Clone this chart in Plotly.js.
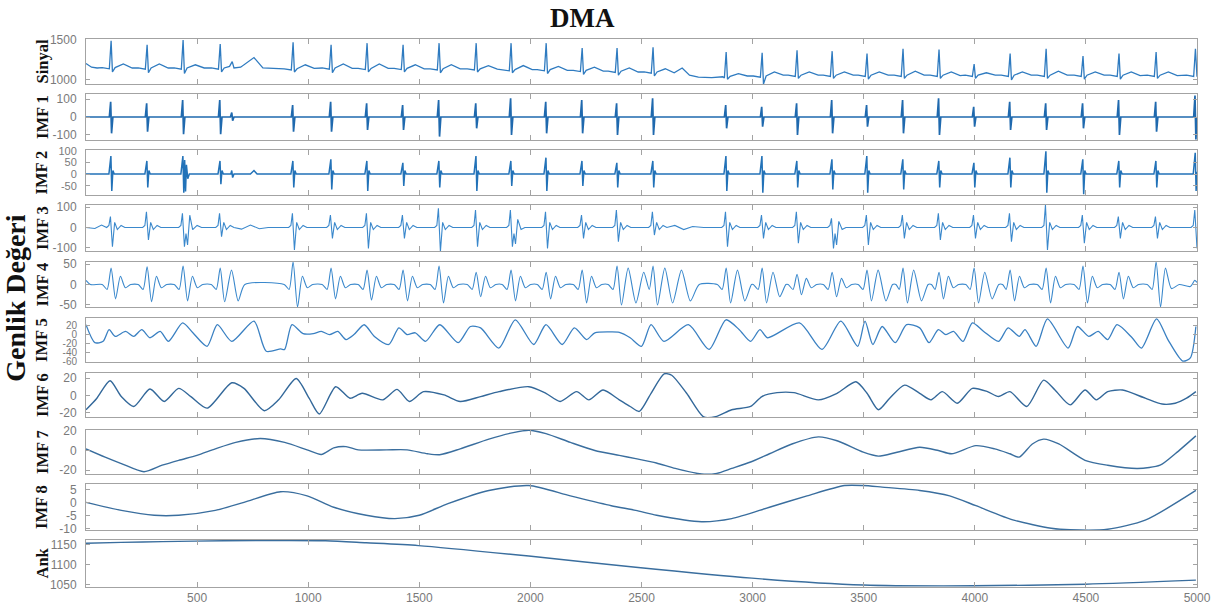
<!DOCTYPE html>
<html><head><meta charset="utf-8">
<script src="https://cdn.plot.ly/plotly-3.0.1.min.js"></script>
<style>html,body{margin:0;padding:0;background:#fff}#chart{width:1221px;height:612px}</style>
</head><body><div id="chart"></div>
<script>
// ---- data (sample index, amplitude) ----
const panelNames = ['Sinyal','IMF 1','IMF 2','IMF 3','IMF 4','IMF 5','IMF 6','IMF 7','IMF 8','Ank'];

const sinyal = [[0,1205],[25,1160],[50,1150],
[73,1155],[105,1140],[113,1490],[119,1100],[131,1155],[168,1200],[208,1150],
[235,1150],[267,1135],[275,1440],[281,1090],[293,1150],[330,1200],[370,1150],
[397,1150],[429,1135],[437,1500],[443,1080],[455,1150],[492,1190],[532,1150],
[564,1150],[596,1135],[604,1450],[610,1100],[622,1150],[646,1170],[658,1230],[666,1150],[696,1160],[756,1280],[796,1150],[856,1140],
[892,1140],[924,1125],[932,1470],[938,1100],[950,1140],[987,1190],[1027,1145],
[1063,1150],[1095,1135],[1103,1440],[1109,1090],[1121,1150],[1158,1200],[1198,1145],
[1225,1145],[1257,1130],[1265,1460],[1271,1100],[1283,1145],[1320,1200],[1360,1145],
[1387,1145],[1419,1130],[1427,1440],[1433,1100],[1445,1145],[1482,1190],[1522,1140],
[1549,1140],[1581,1125],[1589,1460],[1595,1090],[1607,1140],[1644,1190],[1684,1140],
[1716,1140],[1748,1125],[1756,1460],[1762,1100],[1774,1140],[1811,1180],[1851,1135],
[1873,1130],[1905,1115],[1913,1460],[1919,1090],[1931,1130],[1968,1180],[2008,1130],
[2031,1130],[2063,1115],[2071,1460],[2077,1080],[2089,1130],[2126,1170],[2166,1120],
[2193,1120],[2225,1105],[2233,1400],[2239,1070],[2251,1120],[2288,1160],[2328,1110],
[2350,1110],[2382,1095],[2390,1400],[2396,1060],[2408,1110],[2445,1150],[2485,1100],
[2512,1100],[2544,1085],[2552,1410],[2558,1050],[2570,1100],[2607,1140],[2647,1090],[2683,1150],[2716,1060],[2756,1035],[2816,1030],[2846,1040],
[2866,1040],[2873,1025],[2881,1350],[2887,1010],[2899,1045],[2936,1080],[2976,1050],
[3003,1050],[3035,1035],[3043,1340],[3049,950],[3061,1050],[3098,1100],[3138,1060],
[3160,1060],[3192,1045],[3200,1370],[3206,1020],[3218,1060],[3255,1100],[3295,1060],
[3318,1060],[3350,1045],[3358,1360],[3364,1020],[3376,1060],[3413,1100],[3453,1060],
[3475,1060],[3507,1045],[3515,1330],[3521,1010],[3533,1060],[3570,1100],[3610,1060],
[3637,1060],[3669,1045],[3677,1390],[3683,1020],[3695,1060],[3732,1110],[3772,1060],
[3799,1060],[3831,1045],[3839,1380],[3845,1020],[3857,1060],[3894,1100],[3934,1055],
[3957,1060],[3989,1045],[3997,1200],[4003,1020],[4015,1060],[4052,1090],[4092,1060],
[4119,1060],[4151,1045],[4159,1330],[4165,1000],[4177,1060],[4214,1100],[4254,1060],
[4281,1060],[4313,1045],[4321,1390],[4327,1020],[4339,1060],[4376,1110],[4416,1060],
[4447,1060],[4479,1045],[4487,1300],[4493,1010],[4505,1060],[4542,1100],[4582,1060],
[4609,1060],[4641,1045],[4649,1330],[4655,1010],[4667,1060],[4704,1100],[4744,1055],
[4776,1060],[4808,1045],[4816,1350],[4822,1020],[4834,1060],[4871,1100],[4911,1055],
[4953,1060],[4985,1045],[4993,1390],[5000,1040]];

const imf1 = [[0,0],
[105,0],[111,85],[115,-91],[121,0],
[267,0],[273,76],[277,-82],[283,0],
[429,0],[435,94],[439,-96],[445,0],
[596,0],[602,94],[606,-96],[612,0],
[650,0],[656,25],[660,-20],[666,0],
[924,0],[930,67],[934,-82],[940,0],
[1095,0],[1101,85],[1105,-82],[1111,0],
[1257,0],[1263,76],[1267,-72],[1273,0],
[1419,0],[1425,67],[1429,-72],[1435,0],
[1581,0],[1587,94],[1591,-109],[1597,0],
[1748,0],[1754,76],[1758,-63],[1764,0],
[1905,0],[1911,104],[1915,-100],[1921,0],
[2063,0],[2069,85],[2073,-91],[2079,0],
[2225,0],[2231,94],[2235,-91],[2241,0],
[2382,0],[2388,76],[2392,-100],[2398,0],
[2544,0],[2550,104],[2554,-100],[2560,0],
[2873,0],[2879,67],[2883,-63],[2889,0],
[3035,0],[3041,57],[3045,-54],[3051,0],
[3192,0],[3198,76],[3202,-100],[3208,0],
[3350,0],[3356,94],[3360,-91],[3366,0],
[3507,0],[3513,67],[3517,-54],[3523,0],
[3669,0],[3675,94],[3679,-91],[3685,0],
[3831,0],[3837,104],[3841,-100],[3847,0],
[3989,0],[3995,57],[3999,-54],[4005,0],
[4151,0],[4157,85],[4161,-72],[4167,0],
[4313,0],[4319,76],[4323,-72],[4329,0],
[4479,0],[4485,76],[4489,-63],[4495,0],
[4641,0],[4647,94],[4651,-100],[4657,0],
[4808,0],[4814,85],[4818,-82],[4824,0],
[4985,0],[4991,120],[4995,-125],[5000,0]];

const imf2 = [[0,0],
[103,0],[112,77],[116,-73],[121,15],[127,0],
[265,0],[274,56],[278,-58],[283,15],[289,0],
[427,0],[436,77],[440,-80],[444,60],[448,-75],[452,40],[458,-20],[465,0],
[594,0],[603,56],[607,-44],[612,15],[618,0],
[652,0],[656,15],[660,-15],[666,0],
[740,0],[756,15],[770,0],
[922,0],[931,56],[935,-58],[940,15],[946,0],
[1093,0],[1102,63],[1106,-66],[1111,15],[1117,0],
[1255,0],[1264,56],[1268,-73],[1273,15],[1279,0],
[1417,0],[1426,48],[1430,-51],[1435,15],[1441,0],
[1579,0],[1588,56],[1592,-58],[1597,15],[1603,0],
[1746,0],[1755,77],[1759,-73],[1764,15],[1770,0],
[1903,0],[1912,56],[1916,-51],[1921,15],[1927,0],
[2061,0],[2070,70],[2074,-73],[2079,15],[2085,0],
[2223,0],[2232,56],[2236,-51],[2241,15],[2247,0],
[2380,0],[2389,48],[2393,-58],[2398,15],[2404,0],
[2542,0],[2551,56],[2555,-58],[2560,15],[2566,0],
[2871,0],[2880,77],[2884,-73],[2889,15],[2895,0],
[3033,0],[3042,77],[3046,-80],[3051,15],[3057,0],
[3190,0],[3199,56],[3203,-58],[3208,15],[3214,0],
[3348,0],[3357,63],[3361,-66],[3366,15],[3372,0],
[3505,0],[3514,77],[3518,-80],[3523,15],[3529,0],
[3667,0],[3676,63],[3680,-66],[3685,15],[3691,0],
[3829,0],[3838,56],[3842,-58],[3847,15],[3853,0],
[3987,0],[3996,48],[4000,-58],[4005,15],[4011,0],
[4149,0],[4158,70],[4162,-58],[4167,15],[4173,0],
[4311,0],[4320,98],[4324,-80],[4329,15],[4335,0],
[4477,0],[4486,63],[4490,-87],[4495,15],[4501,0],
[4639,0],[4648,56],[4652,-58],[4657,15],[4663,0],
[4806,0],[4815,56],[4819,-58],[4824,15],[4830,0],
[4983,0],[4992,91],[4996,-73],[5000,10]];

const imf3 = [[0,0],[40,-5],[70,12],
[93,0],[103,10],[110,53],[119,-94],[129,25],[141,-10],[158,10],[175,0],
[255,0],[265,10],[272,77],[281,-61],[291,25],[303,-10],[320,10],[337,0],
[417,0],[427,10],[434,69],[443,-94],[450,-30],[457,-85],[467,60],[480,-10],[500,10],[520,0],
[584,0],[594,10],[601,69],[610,-45],[620,25],[632,-10],[649,10],[666,0],
[700,-8],[740,12],[780,-6],[820,0],
[912,0],[922,10],[929,69],[938,-110],[948,25],[960,-10],[977,10],[994,0],
[1083,0],[1093,10],[1100,61],[1109,-53],[1119,25],[1131,-10],[1148,10],[1165,0],
[1245,0],[1255,10],[1262,69],[1271,-102],[1281,25],[1293,-10],[1310,10],[1327,0],
[1407,0],[1417,10],[1424,61],[1433,-53],[1443,25],[1455,-10],[1472,10],[1489,0],
[1569,0],[1579,10],[1586,94],[1595,-118],[1605,25],[1617,-10],[1634,10],[1651,0],
[1736,0],[1746,10],[1753,85],[1762,-94],[1772,25],[1784,-10],[1801,10],[1818,0],
[1893,0],[1903,10],[1910,85],[1919,-94],[1926,-30],[1933,-80],[1943,40],[1958,-10],[1975,0],
[2051,0],[2061,10],[2068,77],[2077,-102],[2087,25],[2099,-10],[2116,10],[2133,0],
[2213,0],[2223,10],[2230,61],[2239,-53],[2249,25],[2261,-10],[2278,10],[2295,0],
[2370,0],[2380,10],[2387,85],[2396,-69],[2406,25],[2418,-10],[2435,10],[2452,0],
[2532,0],[2542,10],[2549,77],[2558,-37],[2568,25],[2580,-10],[2597,10],[2614,0],
[2650,10],[2690,-10],[2730,5],[2780,0],
[2861,0],[2871,10],[2878,77],[2887,-94],[2897,25],[2909,-10],[2926,10],[2943,0],
[3023,0],[3033,10],[3040,61],[3049,-53],[3059,25],[3071,-10],[3088,10],[3105,0],
[3180,0],[3190,10],[3197,77],[3206,-77],[3216,25],[3228,-10],[3245,10],[3262,0],
[3338,0],[3348,10],[3355,45],[3364,-102],[3371,-30],[3378,-85],[3388,30],[3403,-10],[3420,0],
[3495,0],[3505,10],[3512,61],[3521,-85],[3531,25],[3543,-10],[3560,10],[3577,0],
[3657,0],[3667,10],[3674,61],[3683,-53],[3693,25],[3705,-10],[3722,10],[3739,0],
[3819,0],[3829,10],[3836,69],[3845,-61],[3855,25],[3867,-10],[3884,10],[3901,0],
[3977,0],[3987,10],[3994,61],[4003,-53],[4013,25],[4025,-10],[4042,10],[4059,0],
[4139,0],[4149,10],[4156,69],[4165,-69],[4175,25],[4187,-10],[4204,10],[4221,0],
[4301,0],[4311,10],[4318,110],[4327,-110],[4337,25],[4349,-10],[4366,10],[4383,0],
[4467,0],[4477,10],[4484,61],[4493,-77],[4503,25],[4515,-10],[4532,10],[4549,0],
[4629,0],[4639,10],[4646,53],[4655,-53],[4665,25],[4677,-10],[4694,10],[4711,0],
[4796,0],[4806,10],[4813,53],[4822,-53],[4832,25],[4844,-10],[4861,10],[4878,0],
[4973,0],[4983,10],[4990,85],[5000,-102]];

const imf4 = [[0,10],[20,0],
[73,0],[95,-12],[113,40],[133,-35],[155,20],[177,-8],[201,0],
[235,0],[257,-12],[275,43],[295,-42],[317,20],[339,-8],[363,0],
[397,0],[419,-12],[437,45],[457,-40],[479,20],[501,-8],[525,0],
[564,0],[586,-12],[604,40],[624,-42],[655,35],[685,-40],[715,0],
[892,0],[914,-12],[932,55],[952,-55],[974,20],[996,-8],[1020,0],
[1063,0],[1085,-12],[1103,40],[1123,-35],[1145,20],[1167,-8],[1191,0],
[1225,0],[1247,-12],[1265,35],[1285,-38],[1307,20],[1329,-8],[1353,0],
[1387,0],[1409,-12],[1427,35],[1447,-40],[1469,20],[1491,-8],[1515,0],
[1549,0],[1571,-12],[1589,45],[1609,-45],[1631,20],[1653,-8],[1677,0],
[1716,0],[1738,-12],[1756,30],[1776,-30],[1798,20],[1820,-8],[1844,0],
[1873,0],[1895,-12],[1913,35],[1933,-40],[1955,20],[1977,-8],[2001,0],
[2031,0],[2053,-12],[2071,30],[2091,-35],[2113,20],[2135,-8],[2159,0],
[2193,0],[2215,-12],[2233,35],[2253,-45],[2275,20],[2297,-8],[2321,0],
[2350,0],[2372,-12],[2390,45],[2410,-50],[2440,40],[2475,-45],[2510,30],
[2535,-12],[2552,45],[2572,-50],[2605,40],[2640,-45],[2680,35],[2720,-40],[2760,0],
[2841,0],[2863,-12],[2881,40],[2901,-45],[2932,35],[2965,-40],[2995,0],
[3003,0],[3025,-12],[3043,40],[3063,-45],[3092,30],[3122,-30],[3150,0],
[3160,0],[3182,-12],[3200,25],[3220,-25],[3242,15],[3264,-8],[3288,0],
[3318,0],[3340,-12],[3358,30],[3378,-30],[3400,15],[3422,-8],[3446,0],
[3475,0],[3497,-12],[3515,35],[3535,-40],[3565,35],[3600,-40],[3630,0],
[3645,0],[3660,-12],[3677,40],[3697,-45],[3725,35],[3760,-40],[3790,0],
[3805,0],[3821,-12],[3839,30],[3859,-35],[3881,20],[3903,-8],[3927,0],
[3960,0],[3979,-12],[3997,40],[4017,-45],[4045,30],[4078,-35],[4108,0],
[4125,0],[4141,-12],[4159,35],[4179,-40],[4201,20],[4223,-8],[4247,0],
[4281,0],[4303,-12],[4321,40],[4341,-45],[4363,20],[4385,-8],[4409,0],
[4447,0],[4469,-12],[4487,45],[4507,-45],[4529,20],[4551,-8],[4575,0],
[4609,0],[4631,-12],[4649,30],[4669,-35],[4691,20],[4713,-8],[4737,0],
[4776,0],[4798,-12],[4816,55],[4836,-55],[4858,40],[4885,-10],[4920,0],
[4970,-5],[4990,10],[5000,5]];

const imf5 = [[0,22],[40,-18],[77,-15],[104,11],[132,-4],[178,7],[215,-4],[251,11],[288,-7],[334,7],[371,-15],
[435,26],[481,4],[545,-26],[591,22],[656,-15],[756,30],[811,-37],[876,-32],[894,-33],[927,22],[977,2],
[1023,2],[1059,7],[1096,0],[1133,7],[1170,-11],[1206,0],[1252,22],[1298,-4],[1363,-22],[1408,15],[1445,0],
[1482,4],[1528,-15],[1592,22],[1675,-18],[1730,18],[1776,15],[1858,-30],[1932,33],[2015,-22],[2070,22],
[2143,-22],[2198,15],[2253,-11],[2290,4],[2363,6],[2400,5],[2449,-7],[2500,-26],[2543,22],[2601,-15],
[2711,22],[2804,-33],[2880,33],[2940,11],[2991,-15],[3033,11],[3067,-7],[3211,26],[3312,-33],[3397,30],
[3473,-26],[3506,30],[3541,-22],[3583,18],[3642,-18],[3693,22],[3752,15],[3794,-18],[3836,11],[3870,0],
[3904,7],[3947,-15],[3989,26],[4040,7],[4107,-15],[4150,15],[4200,-4],[4226,11],[4276,-26],[4327,35],
[4420,-30],[4462,18],[4513,-4],[4555,7],[4598,-11],[4640,22],[4708,-7],[4750,-30],[4818,35],[4869,-11],
[4936,-59],[4970,-52],[4995,18]];

const imf6 = [[0,-16.6],[49,-3.2],[108,17],[159,-1.3],[215,-12.8],[288,7.4],[352,-7],[417,8.2],[472,-1.3],
[545,-14.7],[656,14.7],[711,8.2],[802,-17.7],[867,-5.1],[946,19.6],[1004,-3.2],[1050,-21.5],[1124,10.1],
[1188,-3.2],[1243,2.5],[1335,-5.1],[1400,7],[1455,-7],[1519,4.4],[1611,0.6],[1684,-7],[1776,-1.3],
[1859,4.4],[1993,10.1],[2070,2.5],[2134,-7],[2208,4.4],[2263,-5.1],[2327,6.3],[2400,-5.1],[2449,-12.8],
[2490,-18.5],[2543,2.5],[2602,25],[2636,23.4],[2703,2.5],[2780,-25],[2839,-24.2],[2906,-16.6],[2991,-12.8],
[3042,-1.3],[3110,3.2],[3186,3.2],[3296,-5.1],[3380,2.5],[3465,15.8],[3515,2.5],[3566,-16.6],[3617,-3.2],
[3684,12],[3752,2.5],[3803,-5.1],[3854,4.4],[3921,-9],[3989,8.2],[4057,4.4],[4107,-1.3],[4158,4.4],
[4234,-12.8],[4310,17.7],[4361,6.3],[4429,-10.9],[4496,6.3],[4547,-5.1],[4598,4.4],[4665,6.3],[4767,-3.2],
[4843,-10],[4902,-9],[4953,-3.2],[4995,4.4]];

const imf7 = [[0,1.7],[86,-6.7],[159,-13.3],[261,-21.7],[343,-15],[417,-10],[499,-5],[582,1.7],[674,8.3],
[784,12.3],[894,8.3],[995,0.7],[1059,-4],[1115,2.7],[1170,4],[1225,0.7],[1353,0.7],[1445,0.7],[1537,-3.3],
[1592,-4.3],[1684,1.7],[1813,11.7],[1923,18.3],[1993,20.7],[2070,17.3],[2180,8.3],[2290,0],[2400,-5],
[2474,-8.3],[2567,-12.7],[2652,-18.3],[2770,-24],[2839,-23.3],[2906,-18.3],[2991,-11.7],[3076,-3.3],
[3177,6.7],[3296,14],[3380,10],[3498,-1.7],[3566,-5.7],[3650,-1.7],[3752,3.3],[3836,0],[3895,-3.3],
[4005,5],[4090,1.7],[4158,-3.3],[4200,-6.7],[4259,6.7],[4310,11.7],[4378,6.7],[4496,-10],[4598,-15],
[4733,-18.3],[4834,-15],[4902,-3.3],[4995,15]];

const imf8 = [[0,0.1],[159,-3],[307,-4.9],[417,-4.9],[582,-3],[711,0.1],[876,4.2],[995,2.6],[1115,-1.8],
[1261,-4.9],[1390,-6.2],[1500,-4.9],[1629,-0.4],[1813,4.7],[1993,6.6],[2180,2.6],[2364,-1.2],[2474,-3],
[2568,-4.9],[2770,-7.4],[2906,-6.2],[3076,-1.8],[3245,2.6],[3414,6.6],[3498,6.6],[3583,6],[3752,4.7],
[3887,2.6],[4005,-1.2],[4175,-6.8],[4344,-9.9],[4429,-10.5],[4598,-10.3],[4767,-6.8],[4995,4.7]];

const ank = [[0,1154],[159,1156],[343,1158],[619,1160],[1078,1160],[1261,1155],[1496,1148],[1993,1122],
[2474,1094],[2997,1067],[3498,1050],[3993,1048],[4498,1052],[4995,1062]];

const xTickVals = [500,1000,1500,2000,2500,3000,3500,4000,4500,5000];
const xTickText = ['500','1000','1500','2000','2500','3000','3500','4000','4500','5000'];
const yTickVals = [[1000,1500],[-100,0,100],[-50,0,50,100],[-100,0,100],[-50,0,50],[-60,-40,-20,0,20],[-20,0,20],[-20,0,20],[-10,-5,0,5],[1050,1100,1150]];
const yTickText = [['1000','1500'],['-100','0','100'],['-50','0','50','100'],['-100','0','100'],['-50','0','50'],['-60','-40','-20','0','20'],['-20','0','20'],['-20','0','20'],['-10','-5','0','5'],['1050','1100','1150']];
const yRanges = [[950,1512],[-128,128],[-90,103],[-115,110],[-55,55],[-61,37],[-25,26],[-24,21],[-10.6,7.2],[1045,1162]];

// ---- layout / styling ----
const series = [sinyal, imf1, imf2, imf3, imf4, imf5, imf6, imf7, imf8, ank];
const domains = [[0.9179,1],[0.8157,0.8996],[0.7153,0.7974],[0.6131,0.6971],[0.5109,0.5931],[0.4106,0.4909],[0.3102,0.3905],[0.2062,0.2865],[0.1040,0.1880],[0,0.0858]];
const widths = [1.3,1.7,1.5,1.1,1.1,1.3,1.4,1.4,1.4,1.4];
const colors = ['#2f7bc0','#1f69ae','#2272b8','#3a88cc','#3a88cc','#3a80c2','#33689a','#3a6e9e','#3a6e9e','#3a6e9e'];
const spline = [false,false,false,false,true,true,true,true,true,true];
const tickSizes = [12,12,11,12,12,10,12,12,12,12];
const frame = '#a3a3a3';
const serifBold = 'Liberation Serif, Times New Roman, serif';
const tickFont = s => ({family:'Liberation Sans, Arial, sans-serif', size:s, color:'#7a7a7a'});

const sfx = i => (i === 0 ? '' : String(i + 1));
const traces = series.map((s, i) => ({
  type: 'scatter', mode: 'lines',
  x: s.map(p => p[0]), y: s.map(p => p[1]),
  xaxis: 'x' + sfx(i), yaxis: 'y' + sfx(i),
  line: {color: colors[i], width: widths[i], shape: spline[i] ? 'spline' : 'linear', smoothing: 0.7},
  hoverinfo: 'skip', showlegend: false
}));

const layout = {
  width: 1221, height: 612,
  margin: {l: 86, r: 24, t: 39, b: 25},
  paper_bgcolor: '#fff', plot_bgcolor: '#fff',
  showlegend: false,
  annotations: []
};
series.forEach((s, i) => {
  layout['xaxis' + sfx(i)] = {
    domain: [0, 1], range: [0, 5000], anchor: 'y' + sfx(i),
    showline: true, linecolor: frame, linewidth: 1, mirror: 'ticks',
    ticks: 'inside', ticklen: 5, tickcolor: frame, tickwidth: 1,
    tickvals: xTickVals, ticktext: xTickText,
    showticklabels: i === series.length - 1, tickfont: tickFont(12),
    showgrid: false, zeroline: false, fixedrange: true
  };
  layout['yaxis' + sfx(i)] = {
    domain: domains[i], range: yRanges[i], anchor: 'x' + sfx(i),
    showline: true, linecolor: frame, linewidth: 1, mirror: 'ticks',
    ticks: 'inside', ticklen: 4, tickcolor: frame, tickwidth: 1,
    tickvals: yTickVals[i], ticktext: yTickText[i], tickfont: tickFont(tickSizes[i]),
    ticklabelstandoff: 6,
    showgrid: false, zeroline: false, fixedrange: true
  };
  layout.annotations.push({
    text: panelNames[i], xref: 'paper', yref: 'paper',
    x: -0.0396, y: (domains[i][0] + domains[i][1]) / 2,
    xanchor: 'center', yanchor: 'middle', textangle: -90, showarrow: false,
    font: {family: serifBold, size: 16.5, color: '#111', weight: 'bold'}
  });
});
layout.annotations.push({
  text: 'Genlik Değeri', xref: 'paper', yref: 'paper',
  x: -0.0635, y: 0.527, xanchor: 'center', yanchor: 'middle', textangle: -90, showarrow: false,
  font: {family: serifBold, size: 28, color: '#111', weight: 'bold'}
});
layout.annotations.push({
  text: 'DMA', xref: 'paper', yref: 'paper',
  x: 0.447, y: 1.038, xanchor: 'center', yanchor: 'middle', showarrow: false,
  font: {family: serifBold, size: 27, color: '#111', weight: 'bold'}
});

Plotly.newPlot('chart', traces, layout, {staticPlot: true, displayModeBar: false});
</script>
</body></html>
